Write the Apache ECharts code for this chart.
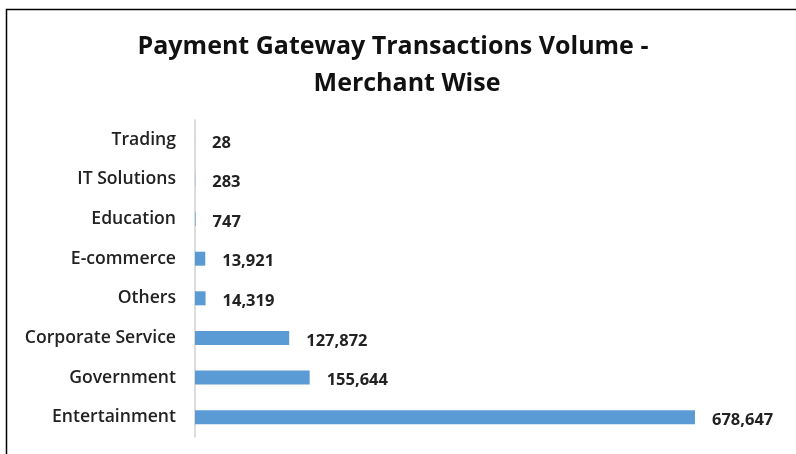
<!DOCTYPE html>
<html><head><meta charset="utf-8">
<script src="https://cdn.jsdelivr.net/npm/echarts@6/dist/echarts.min.js"></script>
<style>html,body{margin:0;padding:0;background:#fff}#c{width:796px;height:454px}</style>
</head><body><div id="c"></div>
<script>
var categories = ["Entertainment","Government","Corporate Service","Others","E-commerce","Education","IT Solutions","Trading"];
var values = [678647,155644,127872,14319,13921,747,283,28];
var titleLine1 = "Payment Gateway Transactions Volume -";
var titleLine2 = "Merchant Wise";

var titleStyle = {fontFamily:'Open Sans',fontWeight:'bold',fontSize:25,color:'#111'};
var chart = echarts.init(document.getElementById('c'), null, {renderer:'canvas'});
chart.setOption({
  animation:false,
  backgroundColor:'#fff',
  title:[
    {text:titleLine1,left:388,top:29,textAlign:'center',textStyle:titleStyle},
    {text:titleLine2,left:402,top:66,textAlign:'center',textStyle:titleStyle}
  ],
  graphic:[{type:'rect',shape:{x:6.5,y:9.5,width:800,height:460},style:{fill:'none',stroke:'#000',lineWidth:1.5}}],
  grid:{left:195,top:120,height:317,width:589.4},
  xAxis:{type:'value',min:0,max:800000,show:false},
  yAxis:{type:'category',data:categories,
    axisLine:{lineStyle:{color:'#d0d0d0',width:1.5}},axisTick:{show:false},
    axisLabel:{margin:19,fontFamily:'Open Sans',fontWeight:600,fontSize:17.6,color:'#222'}},
  series:[{type:'bar',data:values,barWidth:14,
    itemStyle:{color:'#5B9BD5'},
    label:{show:true,position:'right',distance:17,offset:[0,3],fontFamily:'Open Sans',fontWeight:'bold',fontSize:16.5,color:'#222',
      formatter:function(p){return p.value.toLocaleString('en-US');}}}]
});
</script></body></html>
